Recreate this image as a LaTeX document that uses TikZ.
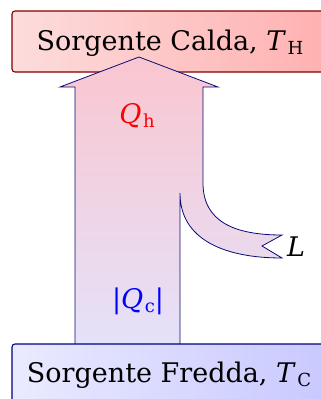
\documentclass[tikz,border=0pt]{standalone}
\usepackage{fontspec}
\setmainfont{DejaVu Serif}
\definecolor{hotborder}{RGB}{128,0,0}
\definecolor{coldborder}{RGB}{0,0,128}
\definecolor{arrowborder}{RGB}{10,10,120}
\definecolor{hotL}{RGB}{253,220,220}
\definecolor{hotR}{RGB}{255,176,176}
\definecolor{coldL}{RGB}{234,234,255}
\definecolor{coldR}{RGB}{200,200,255}
\definecolor{flowtop}{RGB}{250,198,208}
\definecolor{flowbot}{RGB}{228,226,250}
\newcommand{\lbl}[2]{\textit{#1}\kern1.5pt\raisebox{-0.18em}{\fontsize{18}{20}\selectfont #2}}
\begin{document}
\begin{tikzpicture}[x=1pt,y=-1pt,
  reservoir/.style={rounded corners=3pt,line width=1.1pt},
  lab/.style={font=\fontsize{27}{30}\selectfont,inner sep=0pt,anchor=base}]
\useasboundingbox (0,0) rectangle (321,399);
\clip (0,0) rectangle (321,399);
% top reservoir
\shade[reservoir,draw=hotborder,left color=hotL,right color=hotR] (12,11) rectangle (332,72);
\node[lab] (hot) at (170,50) {Sorgente Calda, \lbl{T}{H}};
% flow arrow
\coordinate (bl) at (75,350);
\coordinate (br) at (180,350);
\shade[draw=arrowborder,line width=0.8pt,top color=flowtop,bottom color=flowbot,line join=miter]
  (bl) -- (75,87) -- (60,87) -- (139,57) -- (218,87) -- (203,87) -- (203,183)
  .. controls (203,222) and (235,235) .. (282,235) -- (262,246) -- (282,258)
  .. controls (225,258) and (180,240) .. (180,193) -- (br) -- cycle;
% bottom reservoir
\shade[reservoir,draw=coldborder,left color=coldL,right color=coldR] (12,344) rectangle (332,410);
\node[lab] (cold) at (169,382) {Sorgente Fredda, \lbl{T}{C}};
% labels
\node[lab,text=red] (qh) at (137,123) {\lbl{Q}{h}};
\node[lab,text=blue] (qc) at (138,308) {|\lbl{Q}{c}|};
\node[lab,anchor=base west] (work) at (287,256) {\textit{L}};
\end{tikzpicture}
\end{document}
